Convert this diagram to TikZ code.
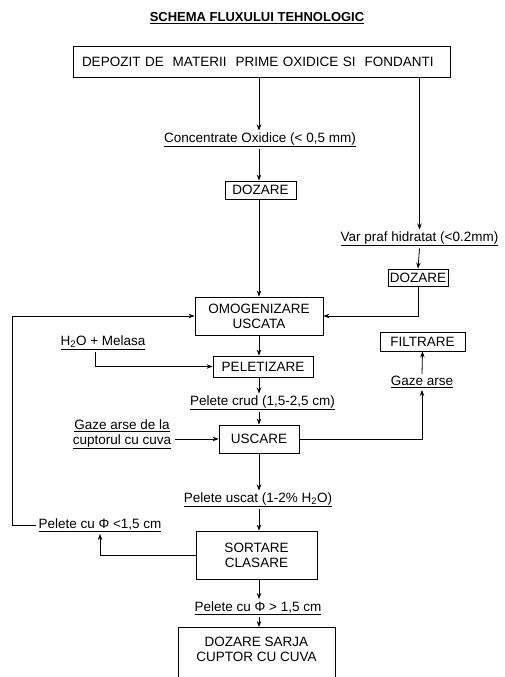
\documentclass[tikz,border=0pt]{standalone}
\usepackage{fontspec}
\setmainfont{Liberation Sans}
\usetikzlibrary{arrows.meta}
\begin{document}
\begin{tikzpicture}[x=1pt,y=-1pt,
  every node/.style={font=\fontsize{13.5}{15}\selectfont},
  box/.style={draw, line width=0.8pt, inner sep=0pt, align=center},
  lbl/.style={inner sep=2pt, align=center},
  arr/.style={line width=0.8pt, -{Stealth[length=6pt,width=4.5pt]}},
  ln/.style={line width=0.8pt}]
\useasboundingbox (0,0) rectangle (505,677);
\coordinate (mx) at (259,0);
\coordinate (fbx) at (12,0);
\coordinate (hx) at (95,0);
\coordinate (gx) at (175,0);
% title
\node (title) at (257,18) {\fontsize{13}{15}\selectfont\underline{\textbf{SCHEMA FLUXULUI TEHNOLOGIC}}};
% boxes
\node (dep) [box, minimum width=377, minimum height=31, text width=359, align=left, inner xsep=9pt] at (261.5,61.5) {DEPOZIT DE\ \ MATERII\ \ PRIME OXIDICE SI\ \ FONDANTI};
\node (doz1) [box, minimum width=71, minimum height=18] at (260.5,190) {DOZARE};
\node (omo) [box, minimum width=128, minimum height=38] at (259,316) {OMOGENIZARE\\USCATA};
\node (doz2) [box, minimum width=60, minimum height=17] at (418,277.5) {DOZARE};
\node (pel) [box, minimum width=100, minimum height=21] at (263,366.5) {PELETIZARE};
\node (filt) [box, minimum width=85, minimum height=19] at (422.5,341.5) {FILTRARE};
\node (usc) [box, minimum width=80, minimum height=28] at (259,439) {USCARE};
\node (sort) [box, minimum width=121, minimum height=48] at (256.5,555) {SORTARE\\CLASARE};
\node (finbox) [box, minimum width=157, minimum height=70, anchor=north] at (256.5,627) {};
\node (final) [lbl] at (256.5,649.5) {DOZARE SARJA\\CUPTOR CU CUVA};
% labels
\node (conc) [lbl] at (260,140) {\underline{Concentrate Oxidice (< 0,5 mm)}};
\node (var) [lbl] at (419.5,239) {\underline{Var praf hidratat (<0.2mm)}};
\node (h2o) [lbl] at (103,343) {\underline{H\textsubscript{2}O + Melasa}};
\node (gaze) [lbl] at (422,382) {\underline{Gaze arse}};
\node (crud) [lbl] at (262.5,403) {\underline{Pelete crud (1,5-2,5 cm)}};
\node (gaze2) [lbl] at (122,434.5) {\underline{Gaze arse de la}\\\underline{cuptorul cu cuva}};
\node (uscat) [lbl] at (258,500) {\underline{Pelete uscat (1-2\% H\textsubscript{2}O)}};
\node (mic) [lbl] at (100,525) {\underline{Pelete cu Φ <1,5 cm}};
\node (mare) [lbl] at (258,608) {\underline{Pelete cu Φ > 1,5 cm}};
% main flow
\draw[arr] (dep.south -| mx) -- (conc.north -| mx);
\draw[arr] (conc.south -| mx) -- (doz1.north -| mx);
\draw[arr] (doz1.south -| mx) -- (omo.north -| mx);
\draw[arr] (omo.south -| mx) -- (pel.north -| mx);
\draw[arr] (pel.south -| mx) -- (crud.north -| mx);
\draw[arr] (crud.south -| mx) -- (usc.north -| mx);
\draw[arr] (usc.south -| mx) -- (uscat.north -| mx);
\draw[arr] (uscat.south -| mx) -- (sort.north -| mx);
\draw[arr] (sort.south -| mx) -- (mare.north -| mx);
\draw[arr] (mare.south -| mx) -- (finbox.north -| mx);
% right branch
\draw[arr] (dep.south -| var) -- (var.north);
\draw[arr] (var.south) -- (doz2.north);
\draw[arr] (doz2.south) |- (omo.east);
% side inputs
\draw[arr] (h2o.south -| hx) |- (pel.west);
\draw[arr] (usc.west -| gx) -- (usc.west);
\draw[arr] (usc.east) -| (gaze.south);
\draw[arr] (gaze.north) -- (filt.south);
% recycle
\draw[arr] (sort.west) -| (mic.south);
\draw[arr] (mic.west) -- (mic.west -| fbx) |- (omo.west);
\end{tikzpicture}
\end{document}
